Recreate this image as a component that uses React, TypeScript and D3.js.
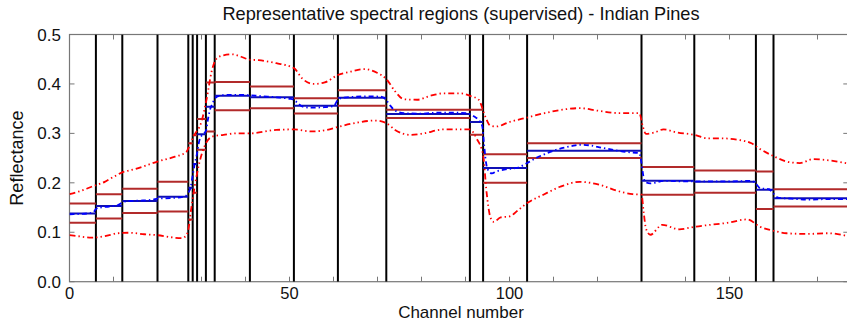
import React from 'react';
import * as d3 from 'd3';

// Region boundaries (channel numbers) and per-region statistics
const regionEdges = [0, 6, 12, 20, 27, 28, 29, 31, 33, 41, 51, 61, 72, 91, 94, 104, 130, 142, 156, 160, 177];
const regionUpper = [0.158, 0.177, 0.188, 0.202, 0.280, 0.296, 0.329, 0.403, 0.404, 0.395, 0.371, 0.387, 0.348, 0.348, 0.258, 0.280, 0.232, 0.225, 0.223, 0.187];
const regionMean = [0.138, 0.153, 0.163, 0.172, 0.190, 0.238, 0.298, 0.354, 0.376, 0.373, 0.356, 0.372, 0.339, 0.323, 0.230, 0.265, 0.204, 0.202, 0.186, 0.169];
const regionLower = [0.119, 0.128, 0.139, 0.142, 0.126, 0.180, 0.267, 0.304, 0.347, 0.351, 0.340, 0.356, 0.331, 0.297, 0.200, 0.250, 0.176, 0.180, 0.147, 0.152];

// Mean spectrum [channel, reflectance]
const meanSpectrum: [number, number][] = [
  [0, 0.136], [2, 0.137], [4, 0.138], [5.5, 0.141], [6, 0.147], [7, 0.150], [9, 0.152], [11, 0.155],
  [12, 0.160], [13, 0.163], [16, 0.164], [19, 0.166], [20, 0.168], [23, 0.169], [26, 0.172], [27, 0.180],
  [27.5, 0.190], [28, 0.215], [28.5, 0.240], [29, 0.260], [29.5, 0.285], [30, 0.295], [31, 0.305],
  [31.5, 0.330], [32, 0.350], [32.5, 0.360], [33, 0.370], [34, 0.376], [36, 0.378], [38, 0.378],
  [41, 0.377], [44, 0.375], [47, 0.373], [50, 0.370], [51, 0.368], [52, 0.360], [53, 0.354], [55, 0.352],
  [58, 0.353], [60, 0.355], [61, 0.368], [62, 0.372], [65, 0.374], [68, 0.375], [71, 0.374], [72, 0.367],
  [73, 0.355], [74, 0.346], [76, 0.341], [80, 0.340], [84, 0.342], [87, 0.342], [90, 0.341], [91, 0.339],
  [92, 0.334], [93, 0.327], [93.8, 0.315], [94.2, 0.280], [94.6, 0.245], [95, 0.228], [96, 0.219],
  [97, 0.223], [99, 0.227], [102, 0.231], [104, 0.240], [106, 0.250], [108, 0.258], [111, 0.268],
  [114, 0.274], [116, 0.277], [118, 0.276], [121, 0.271], [124, 0.266], [127, 0.262], [129.5, 0.260],
  [130, 0.240], [130.5, 0.210], [131, 0.201], [132, 0.199], [133, 0.200], [135, 0.204], [140, 0.203],
  [145, 0.203], [150, 0.203], [155, 0.204], [156, 0.198], [157, 0.189], [159, 0.187], [160, 0.178],
  [161, 0.170], [164, 0.168], [168, 0.166], [172, 0.167], [177, 0.167],
];

// Upper envelope [channel, reflectance]
const upperEnvelope: [number, number][] = [
  [0, 0.177], [2, 0.182], [5, 0.192], [8, 0.202], [10, 0.212], [12, 0.221], [15, 0.228], [18, 0.237],
  [20, 0.243], [24, 0.253], [26.5, 0.262], [27.3, 0.275], [28.2, 0.294], [30, 0.324], [31.2, 0.371],
  [32.3, 0.425], [33.5, 0.452], [35, 0.458], [37, 0.460], [39, 0.455], [41, 0.449], [43, 0.448],
  [47, 0.442], [51, 0.432], [53, 0.410], [55.5, 0.400], [58, 0.403], [61, 0.418], [64, 0.425],
  [67, 0.430], [70, 0.422], [72, 0.410], [74, 0.385], [76, 0.369], [79, 0.368], [82, 0.376], [85, 0.381],
  [89, 0.381], [91, 0.376], [93, 0.368], [94.5, 0.334], [95.6, 0.316], [97, 0.314], [100, 0.323],
  [104, 0.332], [108, 0.341], [112, 0.348], [116, 0.351], [120, 0.346], [125, 0.341], [129.5, 0.341],
  [130.3, 0.314], [131, 0.299], [133, 0.302], [135, 0.308], [138, 0.302], [142, 0.297], [145, 0.290],
  [148, 0.290], [152, 0.287], [155, 0.280], [157, 0.268], [160, 0.254], [163, 0.243], [166, 0.240],
  [169, 0.248], [172, 0.246], [177, 0.239],
];

// Lower envelope [channel, reflectance]
const lowerEnvelope: [number, number][] = [
  [0, 0.094], [2, 0.092], [5, 0.089], [8, 0.092], [11, 0.098], [13.5, 0.099], [17, 0.096], [20, 0.094],
  [23, 0.090], [25.5, 0.088], [26.5, 0.093], [27, 0.105], [27.7, 0.150], [28.4, 0.190], [29.5, 0.240],
  [31, 0.280], [32.6, 0.294], [35, 0.297], [38, 0.300], [41, 0.300], [47, 0.307], [51, 0.308],
  [55, 0.304], [58, 0.306], [61, 0.313], [65.5, 0.322], [69.5, 0.326], [72, 0.321], [74, 0.307],
  [77.5, 0.297], [80.5, 0.300], [85, 0.308], [89, 0.308], [91, 0.308], [92.5, 0.290], [94, 0.256],
  [94.8, 0.180], [95.6, 0.132], [96.4, 0.121], [98, 0.130], [100, 0.132], [102, 0.145], [104, 0.159],
  [107.7, 0.176], [111.5, 0.192], [116, 0.202], [120.5, 0.196], [124.4, 0.184], [128, 0.177],
  [130, 0.176], [130.5, 0.140], [131, 0.108], [132, 0.095], [134.7, 0.115], [138.6, 0.106], [142, 0.111],
  [145.6, 0.115], [149.5, 0.119], [154, 0.126], [157, 0.111], [160, 0.103], [163, 0.098], [167.6, 0.0966],
  [172.3, 0.098], [177, 0.092],
];

const xTickValues = [0, 10, 20, 30, 40, 50, 60, 70, 80, 90, 100, 110, 120, 130, 140, 150, 160, 170];
const xTickLabels = [0, 50, 100, 150];
const yTickValues = [0, 0.1, 0.2, 0.3, 0.4, 0.5];

const title = 'Representative spectral regions (supervised) - Indian Pines';
const xLabel = 'Channel number';
const yLabel = 'Reflectance';

const W = 847;
const H = 321;
const plotLeft = 69.5;
const plotTop = 34.5;
const plotBottom = 281.7;
const xMax = 177;
const pxPerChannel = 4.4;

const FONT = '"Liberation Sans", Arial, Helvetica, sans-serif';
const AXIS = '#777';
const BAR_RED = '#b22a2a';
const BAR_BLUE = '#1010b4';

export default function App() {
  const x = d3.scaleLinear().domain([0, xMax]).range([plotLeft, plotLeft + xMax * pxPerChannel]);
  const y = d3.scaleLinear().domain([0, 0.5]).range([plotBottom, plotTop]);
  const plotRight = x(xMax);

  const line = d3
    .line<[number, number]>()
    .x((d) => x(d[0]))
    .y((d) => y(d[1]))
    .curve(d3.curveMonotoneX);

  const regions = d3.range(regionEdges.length - 1).map((i) => ({
    x0: regionEdges[i],
    x1: regionEdges[i + 1],
    upper: regionUpper[i],
    mean: regionMean[i],
    lower: regionLower[i],
  }));
  const boundaries = regionEdges.slice(1, -1);
  const tickLen = 5;

  return (
    <svg
      width={W}
      height={H}
      viewBox={`0 0 ${W} ${H}`}
      style={{ position: 'absolute', left: 0, top: 0, background: '#fff' }}
      fontFamily={FONT}
    >
      <defs>
        <clipPath id="plot-clip">
          <rect x={plotLeft} y={plotTop} width={plotRight - plotLeft} height={plotBottom - plotTop} />
        </clipPath>
      </defs>

      {/* title */}
      <text x={461} y={20} textAnchor="middle" fontSize={18.2} fill="#111">
        {title}
      </text>

      {/* frame */}
      <rect
        x={plotLeft}
        y={plotTop}
        width={plotRight - plotLeft}
        height={plotBottom - plotTop}
        fill="none"
        stroke={AXIS}
        strokeWidth={1.2}
      />

      {/* ticks */}
      {xTickValues.map((t) => (
        <g key={`xt${t}`} stroke={AXIS} strokeWidth={1}>
          <line x1={x(t)} x2={x(t)} y1={plotBottom} y2={plotBottom - tickLen} />
          <line x1={x(t)} x2={x(t)} y1={plotTop} y2={plotTop + tickLen} />
        </g>
      ))}
      {yTickValues.map((t) => (
        <g key={`yt${t}`} stroke={AXIS} strokeWidth={1}>
          <line x1={plotLeft} x2={plotLeft + tickLen} y1={y(t)} y2={y(t)} />
          <line x1={plotRight} x2={plotRight - tickLen} y1={y(t)} y2={y(t)} />
        </g>
      ))}

      {/* tick labels */}
      {xTickLabels.map((t) => (
        <text key={`xl${t}`} x={x(t)} y={299} textAnchor="middle" fontSize={16.5} fill="#111">
          {t}
        </text>
      ))}
      {yTickValues.map((t) => (
        <text key={`yl${t}`} x={61} y={y(t) + 6} textAnchor="end" fontSize={17} fill="#111">
          {t.toFixed(1)}
        </text>
      ))}

      {/* axis labels */}
      <text x={461} y={318} textAnchor="middle" fontSize={17} fill="#111">
        {xLabel}
      </text>
      <text
        transform={`translate(23, ${(plotTop + plotBottom) / 2}) rotate(-90)`}
        textAnchor="middle"
        fontSize={18}
        fill="#111"
      >
        {yLabel}
      </text>

      <g clipPath="url(#plot-clip)">
        {/* region boundaries */}
        {boundaries.map((b) => (
          <line key={`b${b}`} x1={x(b)} x2={x(b)} y1={plotTop} y2={plotBottom} stroke="#000" strokeWidth={2} />
        ))}

        {/* region statistics */}
        {regions.map((r, i) => (
          <g key={`r${i}`} strokeWidth={2}>
            <line x1={x(r.x0)} x2={x(r.x1)} y1={y(r.upper)} y2={y(r.upper)} stroke={BAR_RED} />
            <line x1={x(r.x0)} x2={x(r.x1)} y1={y(r.lower)} y2={y(r.lower)} stroke={BAR_RED} />
            <line x1={x(r.x0)} x2={x(r.x1)} y1={y(r.mean)} y2={y(r.mean)} stroke={BAR_BLUE} />
          </g>
        ))}

        {/* envelopes */}
        <path
          d={line(upperEnvelope) ?? ''}
          fill="none"
          stroke="#ff0000"
          strokeWidth={1.8}
          strokeDasharray="6,3,1.4,3,1.4,3"
        />
        <path
          d={line(lowerEnvelope) ?? ''}
          fill="none"
          stroke="#ff0000"
          strokeWidth={1.8}
          strokeDasharray="6,3,1.4,3,1.4,3"
        />

        {/* mean spectrum */}
        <path
          d={line(meanSpectrum) ?? ''}
          fill="none"
          stroke="#0000ff"
          strokeWidth={1.8}
          strokeDasharray="5,3,1.4,3"
        />
      </g>
    </svg>
  );
}
